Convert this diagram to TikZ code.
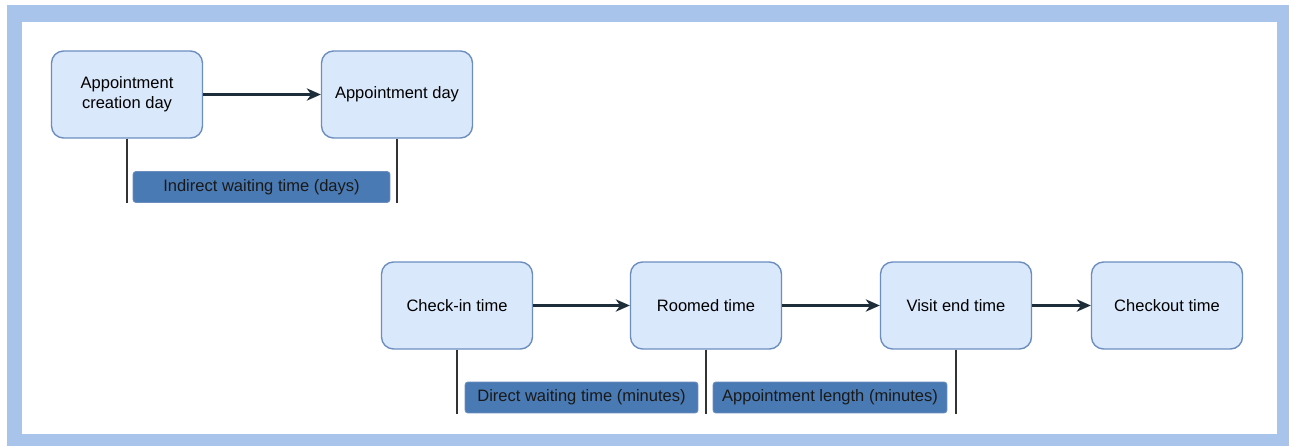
\documentclass[tikz,border=0pt]{standalone}
\usepackage{fontspec}
\setmainfont{Liberation Sans}
\usetikzlibrary{arrows.meta}
\definecolor{framecol}{HTML}{A9C4EB}
\definecolor{boxfill}{HTML}{DAE8FC}
\definecolor{boxline}{HTML}{6C8EBF}
\definecolor{tagfill}{HTML}{4A7AB3}
\definecolor{arrowcol}{HTML}{1E2D3A}
\tikzset{
    event/.style={draw=boxline, fill=boxfill, line width=0.8pt, rounded corners=0.24cm,
        minimum width=3.02cm, minimum height=1.74cm, align=center,
        font=\fontsize{9.4}{11.5}\selectfont},
    span/.style={draw=boxline, fill=tagfill, line width=0.5pt, rounded corners=0.06cm,
        minimum height=0.62cm, inner sep=0pt, font=\fontsize{9.4}{11.5}\selectfont, text=black!90},
    flow/.style={draw=arrowcol, line width=1.2pt, -{Stealth[length=8pt,width=7pt,inset=2.5pt]}},
    tick/.style={draw=black!80, line width=0.8pt}
}
\begin{document}
\begin{tikzpicture}[x=0.02cm, y=-0.02cm]
    \useasboundingbox (0,0) rectangle (1289,446);
    \fill [framecol] (7,5) rectangle (1289,446);
    \fill [white] (22,22) rectangle (1277,434);
    % days
    \node [event] (created) at (127,94.5) {Appointment\\creation day};
    \node [event] (apptday) at (397,94.5) {Appointment day};
    \draw [flow] (created) -- (apptday);
    \draw [tick] (created.south) -- +(0,64);
    \draw [tick] (apptday.south) -- +(0,64);
    \node [span, minimum width=5.14cm] (indirect) at (261.5,187) {Indirect waiting time (days)};
    % minutes
    \node [event] (checkin) at (457,305.5) {Check-in time};
    \node [event] (roomed) at (706,305.5) {Roomed time};
    \node [event] (visitend) at (956,305.5) {Visit end time};
    \node [event] (checkout) at (1167,305.5) {Checkout time};
    \draw [flow] (checkin) -- (roomed);
    \draw [flow] (roomed) -- (visitend);
    \draw [flow] (visitend) -- (checkout);
    \draw [tick] (checkin.south) -- +(0,64);
    \draw [tick] (roomed.south) -- +(0,64);
    \draw [tick] (visitend.south) -- +(0,64);
    \node [span, minimum width=4.66cm] (direct) at (581.5,397.5) {Direct waiting time (minutes)};
    \node [span, minimum width=4.68cm] (length) at (830,397.5) {Appointment length (minutes)};
\end{tikzpicture}
\end{document}
